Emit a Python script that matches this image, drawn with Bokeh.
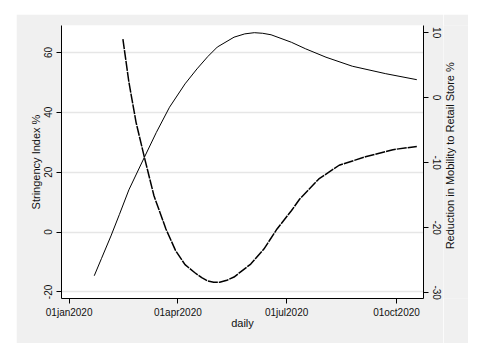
import math
import pandas as pd
from bokeh.plotting import figure
from bokeh.layouts import row
from bokeh.models import Range1d, LinearAxis, FixedTicker, ColumnDataSource
from bokeh.core.properties import value
from bokeh.embed import file_html
from bokeh.resources import INLINE

# ---- data ----
stringency_dates = ["2020-01-22", "2020-01-28", "2020-02-05", "2020-02-12", "2020-02-20",
                    "2020-03-04", "2020-03-14", "2020-03-25", "2020-04-07", "2020-04-17",
                    "2020-04-26", "2020-05-04", "2020-05-18", "2020-05-27", "2020-06-04",
                    "2020-06-11", "2020-06-18", "2020-07-05", "2020-07-17", "2020-08-03",
                    "2020-08-25", "2020-09-22", "2020-10-18"]
stringency = [-14.6, -8.9, -1.3, 5.8, 14.1, 25.0, 33.3, 41.7, 49.5, 54.5,
              58.6, 61.8, 65.1, 66.2, 66.6, 66.4, 65.9, 63.4, 61.2, 58.4,
              55.4, 52.9, 50.9]

mobility_dates = ["2020-02-15", "2020-02-20", "2020-02-26", "2020-03-04", "2020-03-12",
                  "2020-03-22", "2020-03-30", "2020-04-07", "2020-04-15", "2020-04-21",
                  "2020-04-26", "2020-05-01", "2020-05-06", "2020-05-12", "2020-05-18",
                  "2020-06-01", "2020-06-12", "2020-06-23", "2020-07-05", "2020-07-12",
                  "2020-07-28", "2020-08-14", "2020-09-05", "2020-09-28", "2020-10-18"]
mobility = [9.0, 2.4, -3.8, -9.2, -15.1, -20.2, -23.5, -25.7, -26.9, -27.7,
            -28.2, -28.4, -28.4, -28.1, -27.6, -25.6, -23.3, -20.2, -17.4, -15.6,
            -12.5, -10.4, -9.1, -8.0, -7.5]

x_tick_dates = ["2020-01-01", "2020-04-01", "2020-07-01", "2020-10-01"]
x_tick_labels = ["01jan2020", "01apr2020", "01jul2020", "01oct2020"]
left_ticks = [-20, 0, 20, 40, 60]
right_ticks = [-30, -20, -10, 0, 10]
right_title = "Reduction in Mobility to Retail Store %"

origin = pd.Timestamp("2020-01-01")
def days(ds):
    return [int((pd.Timestamp(d) - origin).days) for d in ds]

s_src = ColumnDataSource(dict(x=days(stringency_dates), y=stringency))
m_src = ColumnDataSource(dict(x=days(mobility_dates), y=mobility))

BG = "#f0f0f0"
FONT = "Liberation Sans"
TICK_FS = "10px"
LAB_FS = "11px"
H = 329

p = figure(width=427, height=H, output_backend="svg", toolbar_location=None,
           x_range=Range1d(-6.4, 296.6), y_range=Range1d(-22.2, 69.0),
           min_border_left=45, min_border_right=20, min_border_top=11, min_border_bottom=45,
           background_fill_color="white", border_fill_color=BG)
p.outline_line_color = None
p.extra_y_ranges = {"right": Range1d(-30.9, 11.1)}

p.line("x", "y", source=s_src, line_color="black", line_width=1.0, line_join="round")
p.line("x", "y", source=m_src, y_range_name="right", line_color="black",
       line_width=1.5, line_dash="10 1", line_join="round")

p.xgrid.visible = False
p.ygrid.grid_line_color = "#e6e6e6"
p.ygrid.grid_line_width = 1.5
p.ygrid.ticker = FixedTicker(ticks=left_ticks)

right_axis = LinearAxis(y_range_name="right")
right_axis.ticker = FixedTicker(ticks=right_ticks)
right_axis.major_label_overrides = {t: str(t) for t in right_ticks}
p.add_layout(right_axis, "right")

p.xaxis.ticker = FixedTicker(ticks=days(x_tick_dates))
p.xaxis.major_label_overrides = dict(zip(days(x_tick_dates), x_tick_labels))
p.xaxis.axis_label = "daily"
p.yaxis[0].ticker = FixedTicker(ticks=left_ticks)
p.yaxis[0].major_label_overrides = {t: str(t) for t in left_ticks}
p.yaxis[0].axis_label = "Stringency Index %"

for ax in p.xaxis + p.yaxis:
    ax.axis_line_color = "black"
    ax.axis_line_width = 1
    ax.major_tick_line_color = "black"
    ax.major_tick_out = 5
    ax.major_tick_in = 0
    ax.minor_tick_line_color = None
    ax.major_label_text_font = FONT
    ax.major_label_text_font_size = TICK_FS
    ax.major_label_text_color = "#111111"
    ax.axis_label_text_font = FONT
    ax.axis_label_text_font_size = LAB_FS
    ax.axis_label_text_font_style = "normal"
    ax.axis_label_text_color = "#111111"
    ax.major_label_standoff = 4
    ax.axis_label_standoff = 0

for ax in p.yaxis:
    ax.major_label_orientation = "vertical"

p.xaxis.major_label_standoff = 3
p.xaxis.axis_label_standoff = -4
right_axis.major_label_standoff = 4

# narrow strip that carries the right-hand axis title, reading bottom-to-top
side = figure(width=25, height=H, output_backend="svg", toolbar_location=None,
              x_range=Range1d(0, 25), y_range=Range1d(0, H),
              min_border_left=0, min_border_right=0, min_border_top=0, min_border_bottom=0,
              background_fill_color=BG, border_fill_color=BG)
side.outline_line_color = None
side.axis.visible = False
side.grid.visible = False
side.text(x=[6.0], y=[172.0], text=[right_title], angle=math.pi / 2,
          text_align="center", text_baseline="middle", text_font=value(FONT),
          text_font_size=LAB_FS, text_color="#111111")

layout = row(p, side, spacing=0)
layout.margin = (14, 19, 13, 16)

open("out.html", "w").write(file_html(layout, INLINE))
